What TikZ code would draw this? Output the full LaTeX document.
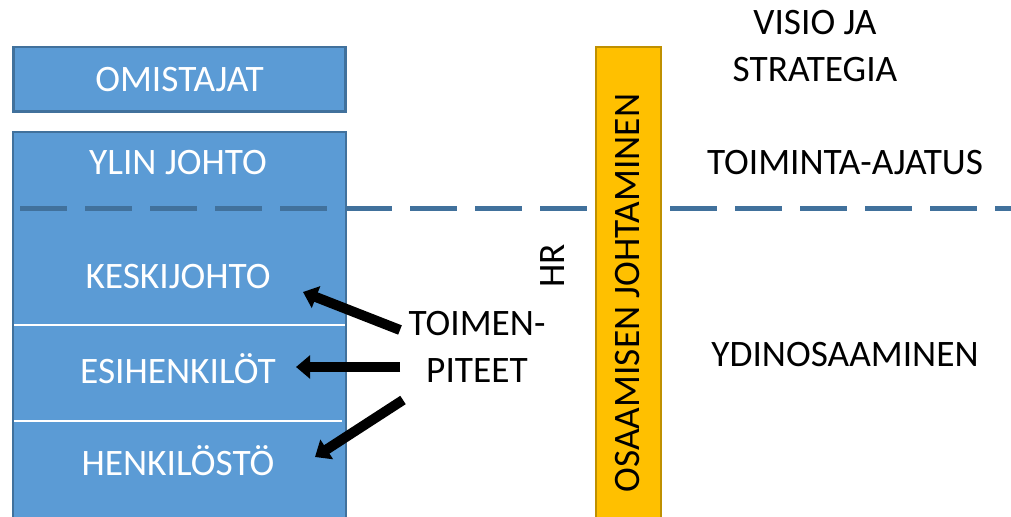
\documentclass[tikz,border=0pt]{standalone}
\usepackage{fontspec}
\setmainfont{Carlito}
\usetikzlibrary{arrows.meta}

\definecolor{boxblue}{HTML}{5B9BD5}
\definecolor{boxedge}{HTML}{41719C}
\definecolor{gold}{HTML}{FFC000}
\definecolor{goldedge}{HTML}{BF9000}

\begin{document}
\begin{tikzpicture}[
x=0.75pt, y=-0.75pt,
every node/.style={
    font=\fontsize{28}{35}\selectfont,
    align=center
},
level/.style={text=white},
bluebox/.style={fill=boxblue, draw=boxedge, line width=2pt},
split/.style={white, line width=1pt},
aim/.style={boxedge, line width=3.75pt, dash pattern=on 35.25pt off 13.5pt},
push/.style={line width=7.5pt, -{Triangle[length=10.5pt,width=17pt]}}
]
\clip (0,0) rectangle (1011,517);

\node[bluebox, level, minimum width=249pt, minimum height=48.5pt] (owners) at (179.5,79.5) {OMISTAJAT};
\draw[bluebox] (13,132) rectangle (346,540);
\draw[split] (14,325) -- (345,325);
\draw[split] (14,421) -- (342,421);

\draw[aim] (20,208) -- (1011,208);

\node[level] (top) at (178,163) {YLIN JOHTO};
\node[level] (middle) at (178,277) {KESKIJOHTO};
\node[level] (super) at (178,369) {ESIHENKILÖT};
\node[level] (staff) at (178,461) {HENKILÖSTÖ};

\node (tasks) at (477,347) {TOIMEN-\\PITEET};
\coordinate (from1) at (400,330);
\coordinate (to1) at (303,292);
\coordinate (from2) at (400,367);
\coordinate (to2) at (296,367);
\coordinate (from3) at (403,400);
\coordinate (to3) at (315,457);
\draw[push] (from1) -- (to1);
\draw[push] (from2) -- (to2);
\draw[push] (from3) -- (to3);

\node[rotate=90] (hr) at (553,266) {HR};

\draw[fill=gold, draw=goldedge, line width=2pt] (596,47) rectangle (661,540);
\node[rotate=90] (skills) at (628,293) {OSAAMISEN JOHTAMINEN};

\node (vision) at (815,46) {VISIO JA\\STRATEGIA};
\node (mission) at (845,163) {TOIMINTA-AJATUS};
\node (core) at (845,355) {YDINOSAAMINEN};
\end{tikzpicture}
\end{document}
